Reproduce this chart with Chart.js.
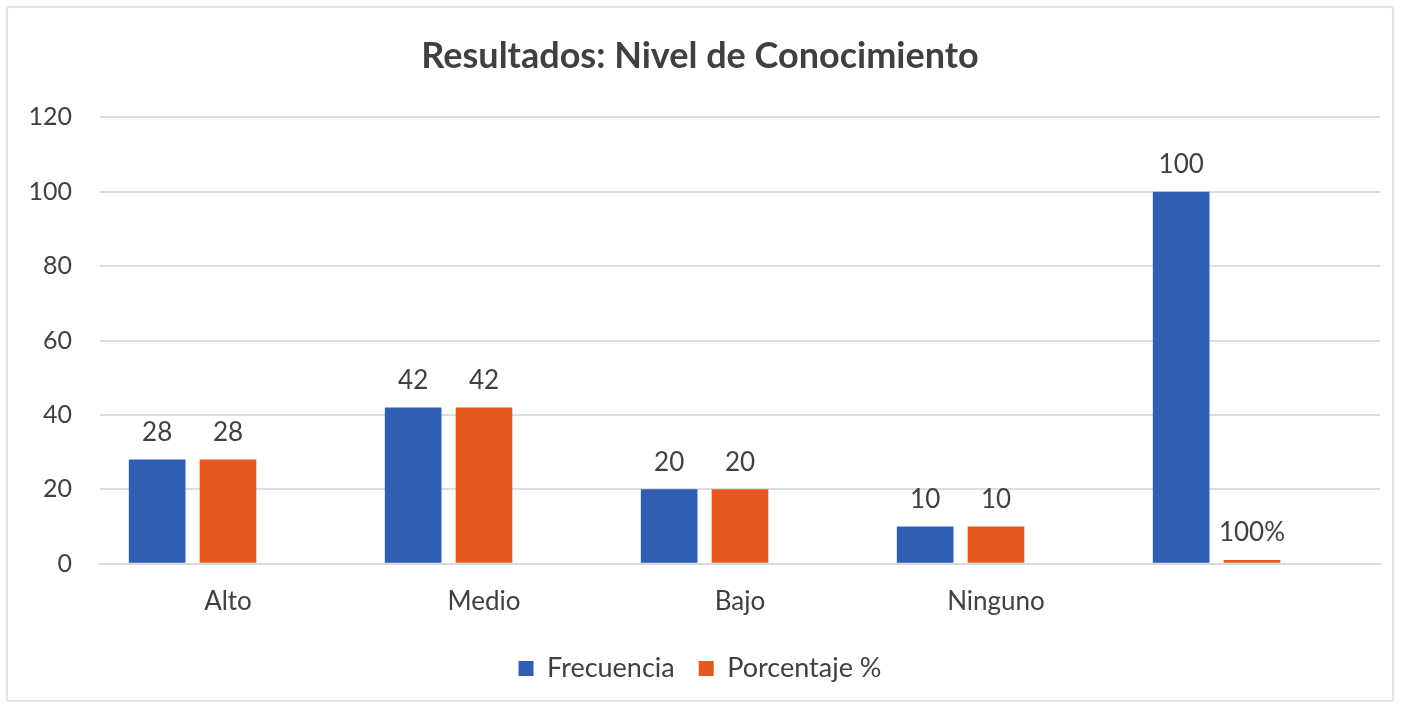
<!DOCTYPE html>
<html>
<head>
<meta charset="utf-8">
<script src="https://cdn.jsdelivr.net/npm/chart.js@4/dist/chart.umd.min.js"></script>
<style>
  body { margin: 0; background: #fff; }
  #marco { position: absolute; left: 6px; top: 6px; width: 1384px; height: 692px; border: 2px solid #e3e3e3; border-radius: 3px; }
  #caja { position: absolute; left: 0; top: 0; width: 1405px; height: 710px; }
</style>
</head>
<body>
<div id="marco"></div>
<div id="caja"><canvas id="grafico"></canvas></div>
<script>
// Datos del grafico
var categorias = ['Alto', 'Medio', 'Bajo', 'Ninguno', ''];
var frecuencia = [28, 42, 20, 10, 100];
var porcentaje = [28, 42, 20, 10, 1];
var etiquetasFrecuencia = ['28', '42', '20', '10', '100'];
var etiquetasPorcentaje = ['28', '42', '20', '10', '100%'];
var vacio = [null, null, null, null, null];

var fuente = 'Lato, "Open Sans", sans-serif';
var gris = '#404040';

// Plugin para poner los valores encima de las barras
var etiquetasBarras = {
    id: 'etiquetasBarras',
    afterDatasetsDraw: function(chart) {
        var ctx = chart.ctx;
        ctx.save();
        ctx.font = '26px ' + fuente;
        ctx.fillStyle = gris;
        ctx.textAlign = 'center';
        ctx.textBaseline = 'bottom';
        chart.data.datasets.forEach(function(ds, i) {
            if (!ds.etiquetas) return;
            chart.getDatasetMeta(i).data.forEach(function(bar, j) {
                ctx.fillText(ds.etiquetas[j], bar.x, bar.y - 14);
            });
        });
        ctx.restore();
    }
};

var grafico = new Chart(document.getElementById('grafico'), {
    type: 'bar',
    data: {
        labels: categorias,
        datasets: [{
            label: 'Frecuencia',
            data: frecuencia,
            etiquetas: etiquetasFrecuencia,
            backgroundColor: '#2F5EB4'
        }, {
            label: 'Porcentaje %',
            data: porcentaje,
            etiquetas: etiquetasPorcentaje,
            backgroundColor: '#E5591F'
        }, {
            label: '',
            data: vacio,
            backgroundColor: 'transparent'
        }]
    },
    options: {
        responsive: true,
        maintainAspectRatio: false,
        animation: false,
        categoryPercentage: 0.83,
        barPercentage: 0.8,
        layout: { padding: { left: 20, right: 25, top: 35, bottom: 18 } },
        plugins: {
            title: {
                display: true,
                text: 'Resultados: Nivel de Conocimiento',
                color: gris,
                font: { family: fuente, size: 36, weight: 'bold' },
                padding: { top: 0, bottom: 39 }
            },
            legend: {
                position: 'bottom',
                labels: {
                    color: gris,
                    font: { family: fuente, size: 27 },
                    boxWidth: 15,
                    boxHeight: 15,
                    padding: 24,
                    filter: function(item) { return item.text !== ''; }
                }
            },
            tooltip: { enabled: false }
        },
        scales: {
            x: {
                grid: { display: false },
                border: { color: '#d9d9d9', width: 2 },
                ticks: { color: gris, font: { family: fuente, size: 26 }, padding: 14 }
            },
            y: {
                min: 0,
                max: 120,
                ticks: { stepSize: 20, color: gris, font: { family: fuente, size: 25 }, padding: 28 },
                grid: { color: '#dedede', lineWidth: 2, drawTicks: false },
                border: { display: false },
                afterFit: function(scale) { scale.width = 80; }
            }
        }
    },
    plugins: [etiquetasBarras]
});
</script>
</body>
</html>
